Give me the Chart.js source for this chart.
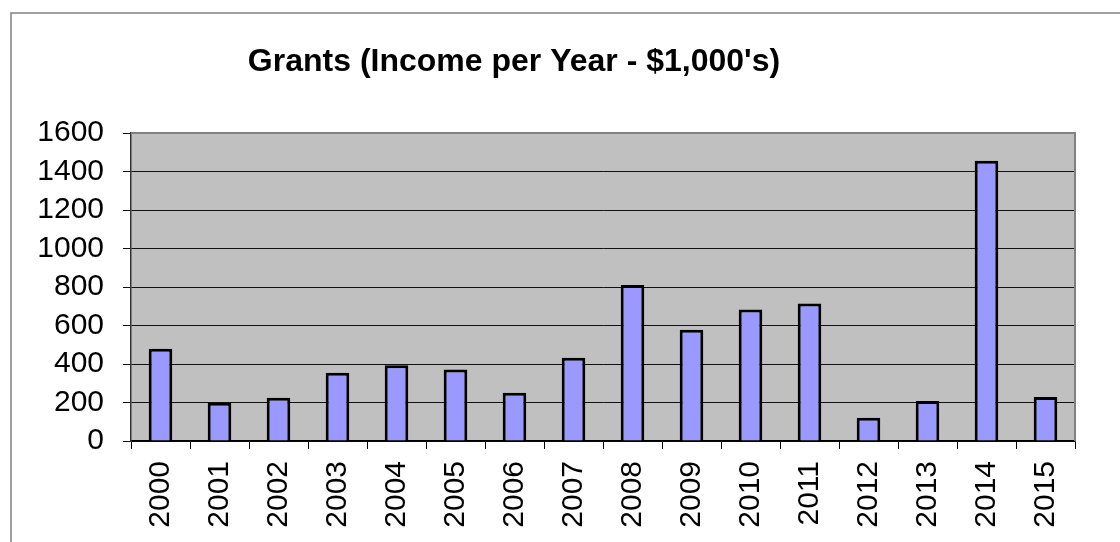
<!DOCTYPE html>
<html>
<head>
<meta charset="utf-8">
<script src="https://cdn.jsdelivr.net/npm/chart.js@4/dist/chart.umd.min.js"></script>
<style>
  html, body { margin: 0; padding: 0; background: #fff; }
  #wrap { width: 1120px; height: 542px; }
</style>
</head>
<body>
<div id="wrap"><canvas id="myChart" width="1120" height="542"></canvas></div>
<script>
// chart data
const years = ["2000", "2001", "2002", "2003", "2004", "2005", "2006", "2007",
  "2008", "2009", "2010", "2011", "2012", "2013", "2014", "2015"];
const grants = [479, 199, 225, 355, 394, 372, 251, 432, 810, 578, 683, 714, 121, 208, 1456, 228];
const titleText = "Grants (Income per Year - $1,000's)";

// outer frame, grey plot background and plot border, title
const excelLook = {
  id: "excelLook",
  beforeDraw(chart) {
    const { ctx, chartArea: a } = chart;
    ctx.save();
    ctx.strokeStyle = "#808080";
    ctx.lineWidth = 1.5;
    ctx.strokeRect(11, 13, 1200, 600);
    ctx.fillStyle = "#c0c0c0";
    ctx.fillRect(a.left, a.top, a.right - a.left, a.bottom - a.top);
    ctx.fillStyle = "#000";
    ctx.font = "bold 32px Arial, 'Liberation Sans', sans-serif";
    ctx.textAlign = "center";
    ctx.textBaseline = "alphabetic";
    ctx.fillText(titleText, 514, 71);
    ctx.restore();
  },
  afterDatasetsDraw(chart) {
    const { ctx, chartArea: a } = chart;
    ctx.save();
    ctx.strokeStyle = "#808080";
    ctx.lineWidth = 2;
    ctx.beginPath();
    ctx.moveTo(a.left, a.top);
    ctx.lineTo(a.right, a.top);
    ctx.lineTo(a.right, a.bottom);
    ctx.stroke();
    ctx.restore();
  }
};

const ctx = document.getElementById("myChart").getContext("2d");
new Chart(ctx, {
  type: "bar",
  data: {
    labels: years,
    datasets: [{
      data: grants,
      backgroundColor: "#9999ff",
      borderColor: "#000",
      borderWidth: 3,
      barPercentage: 0.4,
      categoryPercentage: 1
    }]
  },
  options: {
    responsive: false,
    animation: false,
    layout: { padding: { top: 133, left: 0, right: 45, bottom: 0 } },
    plugins: {
      legend: { display: false },
      tooltip: { enabled: false },
      title: { display: false }
    },
    scales: {
      x: {
        afterFit: (s) => { s.height = 101; },
        grid: {
          offset: true,
          drawOnChartArea: false,
          drawTicks: true,
          tickLength: 8,
          color: "#000"
        },
        border: { color: "#000", width: 1.5 },
        ticks: {
          autoSkip: false,
          minRotation: 90,
          maxRotation: 90,
          padding: 12,
          color: "#000",
          font: { family: "Arial, 'Liberation Sans', sans-serif", size: 30 }
        }
      },
      y: {
        min: 0,
        max: 1600,
        afterFit: (s) => { s.width = 131; },
        grid: { color: "#111", lineWidth: 1, tickLength: 8 },
        border: { color: "#333", width: 1.5 },
        ticks: {
          stepSize: 200,
          autoSkip: false,
          padding: 19,
          color: "#000",
          callback: (v) => String(v),
          font: { family: "Arial, 'Liberation Sans', sans-serif", size: 30 }
        }
      }
    }
  },
  plugins: [excelLook]
});
</script>
</body>
</html>
